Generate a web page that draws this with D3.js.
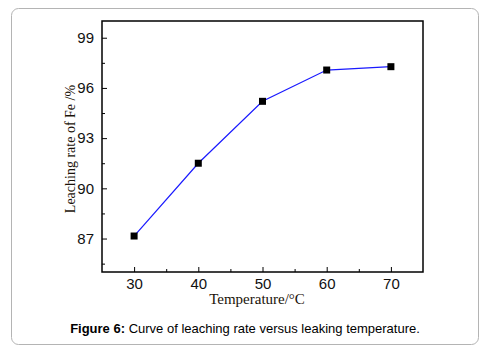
<!DOCTYPE html>
<html>
<head>
<meta charset="utf-8">
<script src="https://cdn.jsdelivr.net/npm/d3@7"></script>
<style>
  body { margin: 0; background: #fff; }
  svg { display: block; }
</style>
</head>
<body>
<div id="chart"></div>
<script>
// data
var temps = [30, 40, 50, 60, 70];
var rates = [87.15, 91.5, 95.2, 97.07, 97.27];
var xTicks = [30, 40, 50, 60, 70];
var yTicks = [87, 90, 93, 96, 99];

var width = 489, height = 355;
var margin = {top: 21, right: 66, bottom: 83, left: 102};

var svg = d3.select('#chart').append('svg')
    .attr('width', width)
    .attr('height', height);

// outer figure frame
svg.append('rect')
  .attr('x', 11.5).attr('y', 8.5)
  .attr('width', 467).attr('height', 336)
  .attr('rx', 7).attr('ry', 7)
  .attr('fill', '#fff')
  .attr('stroke', '#b4b4b4')
  .attr('stroke-width', 1);

var x = d3.scaleLinear().domain([25, 75])
    .range([margin.left, width - margin.right]);
var y = d3.scaleLinear().domain([85, 100])
    .range([height - margin.bottom, margin.top]);

var g = svg.append('g');

// inward ticks, major + minor
var xAxis = d3.axisBottom(x).tickValues(xTicks).tickSizeInner(-5).tickSizeOuter(0)
    .tickFormat(d3.format('d')).tickPadding(6);
var xMinor = d3.axisBottom(x).tickValues([35, 45, 55, 65]).tickSizeInner(-3).tickSizeOuter(0)
    .tickFormat('');
var yAxis = d3.axisLeft(y).tickValues(yTicks).tickSizeInner(-5).tickSizeOuter(0)
    .tickFormat(d3.format('d')).tickPadding(8);
var yMinor = d3.axisLeft(y).tickValues([85.5, 88.5, 91.5, 94.5, 97.5]).tickSizeInner(-3).tickSizeOuter(0)
    .tickFormat('');

function style(sel) {
  sel.select('.domain').remove();
  sel.selectAll('line').attr('stroke', '#000').attr('stroke-width', 1);
  sel.selectAll('text')
    .attr('font-family', 'Arial, "Liberation Sans", sans-serif')
    .attr('font-size', 15)
    .attr('fill', '#111');
}

g.append('g').attr('transform', 'translate(0,' + y.range()[0] + ')').call(xAxis).call(style);
g.append('g').attr('transform', 'translate(0,' + y.range()[0] + ')').call(xMinor).call(style);
g.append('g').attr('transform', 'translate(' + x.range()[0] + ',0)').call(yAxis).call(style);
g.append('g').attr('transform', 'translate(' + x.range()[0] + ',0)').call(yMinor).call(style);

// plot frame
g.append('rect')
  .attr('x', x.range()[0]).attr('y', y.range()[1])
  .attr('width', x.range()[1] - x.range()[0])
  .attr('height', y.range()[0] - y.range()[1])
  .attr('fill', 'none')
  .attr('stroke', '#000')
  .attr('stroke-width', 1.5);

var pts = temps.map(function(t, i) { return [t, rates[i]]; });

g.append('path')
  .datum(pts)
  .attr('fill', 'none')
  .attr('stroke', '#1a1aff')
  .attr('stroke-width', 1.2)
  .attr('d', d3.line().x(function(d) { return x(d[0]); }).y(function(d) { return y(d[1]); }));

g.selectAll('rect.pt')
  .data(pts)
  .enter()
    .append('rect')
    .attr('class', 'pt')
    .attr('x', function(d) { return x(d[0]) - 3.5; })
    .attr('y', function(d) { return y(d[1]) - 3.5; })
    .attr('width', 7).attr('height', 7)
    .attr('fill', '#000');

// axis titles
svg.append('text')
  .attr('x', 257)
  .attr('y', 304)
  .attr('text-anchor', 'middle')
  .attr('font-family', '"Times New Roman", "Liberation Serif", serif')
  .attr('font-size', 15)
  .attr('fill', '#1a1208')
  .text('Temperature/°C');

svg.append('text')
  .attr('transform', 'translate(75,149) rotate(-90)')
  .attr('text-anchor', 'middle')
  .attr('font-family', '"Times New Roman", "Liberation Serif", serif')
  .attr('font-size', 14)
  .attr('fill', '#1a1208')
  .text('Leaching rate of Fe /%');

// caption
var cap = svg.append('text')
  .attr('x', 245)
  .attr('y', 333)
  .attr('text-anchor', 'middle')
  .attr('font-family', 'Arial, "Liberation Sans", sans-serif')
  .attr('font-size', 13)
  .attr('fill', '#000');
cap.append('tspan').attr('font-weight', 'bold').text('Figure 6:');
cap.append('tspan').text(' Curve of leaching rate versus leaking temperature.');
</script>
</body>
</html>
